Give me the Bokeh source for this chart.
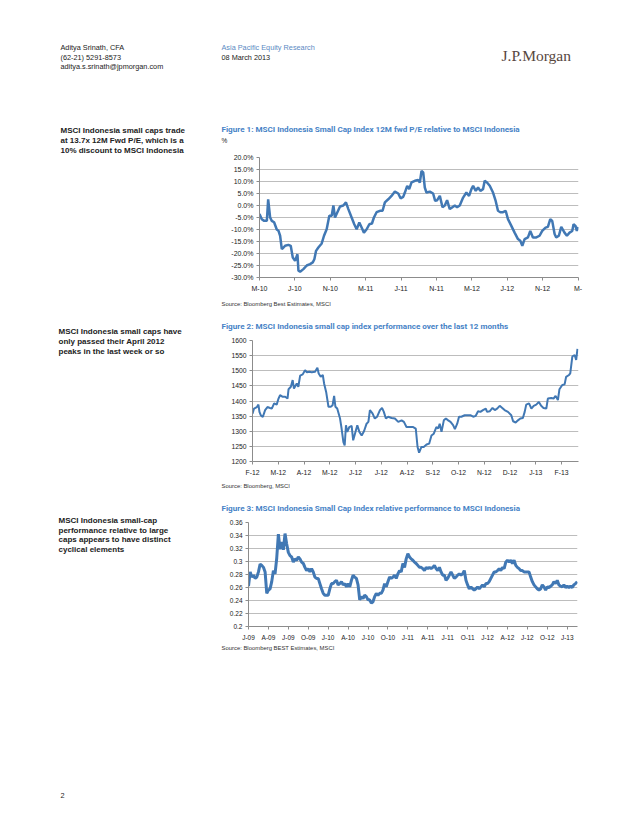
import numpy as np
from bokeh.plotting import figure
from bokeh.models import Range1d, Label, FixedTicker
from bokeh.layouts import column, row
from bokeh.embed import file_html
from bokeh.resources import INLINE

# ---------------- data ----------------
# Figure 1: small cap 12M fwd P/E relative to MSCI Indonesia (%), x = months since Mar-2010
f1_months = [0.00, 0.26, 0.53, 0.83, 0.98, 1.20, 1.39, 1.65, 1.95, 2.14, 2.33, 2.52, 2.71, 2.89, 3.27, 3.53,
             3.76, 4.02, 4.29, 4.40, 4.59, 4.96, 5.34, 5.71, 6.02, 6.20, 6.39, 6.65, 7.03, 7.29, 7.59, 7.89,
             8.16, 8.35, 8.53, 8.80, 9.10, 9.47, 9.77, 10.04, 10.41, 10.71, 10.98, 11.28, 11.54, 11.80, 12.11,
             12.41, 12.71, 12.93, 13.23, 13.61, 13.91, 14.17, 14.55, 14.92, 15.30, 15.68, 15.94, 16.24, 16.43,
             16.69, 16.92, 17.18, 17.56, 17.93, 18.12, 18.31, 18.50, 18.68, 18.87, 19.25, 19.62, 19.85, 20.08,
             20.38, 20.68, 20.94, 21.20, 21.50, 21.80, 22.07, 22.33, 22.63, 23.01, 23.38, 23.68, 23.95, 24.14,
             24.44, 24.70, 24.96, 25.26, 25.45, 25.71, 26.02, 26.39, 26.69, 26.95, 27.22, 27.52, 27.82, 28.08,
             28.46, 28.83, 29.21, 29.47, 29.70, 29.96, 30.34, 30.60, 30.90, 31.28, 31.65, 31.95, 32.33, 32.59,
             32.86, 33.08, 33.35, 33.53, 33.83, 34.10, 34.47, 34.74, 35.04, 35.34, 35.49, 35.71, 35.86, 36.00]
f1_values = [-3.5, -5.7, -6.4, -6.4, 2.6, -5.0, -6.4, -7.0, -10.0, -10.5, -12.6, -18.2, -17.5, -16.8, -16.4, -16.8,
             -21.7, -23.0, -20.3, -27.2, -27.6, -26.5, -25.0, -24.4, -23.7, -22.4, -18.9, -17.5, -15.8, -12.6, -9.9, -4.3,
             -4.3, 0.0, -5.0, -2.8, -0.4, 0.0, 1.3, -1.5, -5.0, -7.8, -9.9, -7.1, -9.2, -11.3, -9.9,
             -7.8, -7.5, -5.0, -2.8, -2.2, -2.2, 1.3, 2.6, 4.0, 5.8, 5.0, 3.0, 3.6, 5.4,
             8.2, 6.8, 9.6, 10.3, 10.6, 9.6, 14.4, 13.8, 7.5, 5.4, 5.8, 5.0, 1.9, 2.2,
             4.0, -0.7, 0.0, 2.2, -1.5, -0.7, 0.0, -0.7, 0.0, 3.3, 5.4, 4.0, 6.8, 8.2,
             6.1, 7.5, 6.1, 6.8, 10.3, 9.6, 8.2, 5.4, 1.9, -2.2, -2.8, -2.8, -2.2, -5.7,
             -8.5, -11.3, -14.0, -14.7, -16.8, -14.0, -13.3, -10.6, -13.3, -13.3, -12.6, -10.6, -9.2, -8.9,
             -5.7, -6.4, -11.9, -13.3, -12.6, -8.9, -11.3, -12.6, -11.3, -10.6, -7.8, -8.5, -10.6, -8.9]
f1_xticks = [0, 4, 8, 12, 16, 20, 24, 28, 32, 36]
f1_xlabels = ["M-10", "J-10", "N-10", "M-11", "J-11", "N-11", "M-12", "J-12", "N-12", "M-"]
f1_yticks = [-30, -25, -20, -15, -10, -5, 0, 5, 10, 15, 20]

# Figure 2: MSCI Indonesia small cap index level, x = months since Feb-2012
f2_months = [0.00, 0.06, 0.17, 0.23, 0.27, 0.32, 0.40, 0.49, 0.58, 0.68, 0.75, 0.84, 0.94, 1.01, 1.07, 1.18,
             1.27, 1.36, 1.40, 1.49, 1.56, 1.61, 1.72, 1.78, 1.85, 1.95, 2.04, 2.11, 2.21, 2.30, 2.43, 2.52,
             2.57, 2.65, 2.73, 2.78, 2.86, 2.95, 3.04, 3.11, 3.17, 3.22, 3.29, 3.40, 3.46, 3.53, 3.58, 3.63,
             3.68, 3.76, 3.85, 3.91, 3.98, 4.07, 4.15, 4.24, 4.33, 4.43, 4.50, 4.56, 4.66, 4.75, 4.84, 4.95,
             5.03, 5.10, 5.18, 5.27, 5.40, 5.53, 5.66, 5.79, 5.88, 5.98, 6.11, 6.24, 6.34, 6.41, 6.47, 6.56,
             6.65, 6.76, 6.86, 6.95, 7.04, 7.14, 7.21, 7.27, 7.34, 7.43, 7.51, 7.60, 7.69, 7.79, 7.86, 7.95,
             8.02, 8.11, 8.24, 8.37, 8.46, 8.57, 8.67, 8.76, 8.85, 8.95, 9.06, 9.11, 9.21, 9.32, 9.41, 9.50,
             9.60, 9.70, 9.79, 9.92, 10.05, 10.12, 10.22, 10.31, 10.40, 10.50, 10.57, 10.63, 10.74, 10.83,
             10.92, 11.02, 11.12, 11.21, 11.30, 11.41, 11.47, 11.60, 11.69, 11.77, 11.86, 11.92, 12.03, 12.12,
             12.18, 12.29, 12.34, 12.42, 12.51, 12.57, 12.62]
f2_values = [1358, 1375, 1380, 1388, 1364, 1353, 1347, 1370, 1380, 1377, 1375, 1392, 1388, 1408, 1419, 1414,
             1414, 1408, 1439, 1447, 1469, 1441, 1458, 1447, 1484, 1488, 1502, 1495, 1497, 1495, 1497, 1510,
             1491, 1480, 1486, 1458, 1430, 1381, 1381, 1386, 1417, 1381, 1375, 1342, 1309, 1264, 1253, 1320,
             1298, 1314, 1318, 1270, 1292, 1320, 1298, 1286, 1300, 1325, 1331, 1370, 1359, 1342, 1348, 1370,
             1377, 1364, 1342, 1348, 1344, 1342, 1331, 1336, 1331, 1314, 1314, 1314, 1309, 1248, 1229, 1248,
             1248, 1256, 1259, 1286, 1292, 1314, 1309, 1325, 1298, 1336, 1342, 1336, 1331, 1320, 1307, 1325,
             1348, 1348, 1353, 1353, 1353, 1348, 1351, 1366, 1364, 1370, 1375, 1364, 1366, 1377, 1370, 1375,
             1384, 1377, 1370, 1364, 1353, 1333, 1329, 1336, 1342, 1344, 1364, 1388, 1392, 1375,
             1384, 1388, 1397, 1384, 1377, 1375, 1408, 1410, 1408, 1417, 1403, 1439, 1453, 1455,
             1480, 1486, 1491, 1547, 1552, 1536, 1572]
f2_xticks = list(range(13))
f2_xlabels = ["F-12", "M-12", "A-12", "M-12", "J-12", "J-12", "A-12", "S-12", "O-12", "N-12", "D-12", "J-13", "F-13"]
f2_yticks = [1200, 1250, 1300, 1350, 1400, 1450, 1500, 1550, 1600]

# Figure 3: small cap index relative to MSCI Indonesia, sampled every quarter month since Jan-2009
f3_step = 0.25
f3_values = [0.262, 0.284, 0.276, 0.279, 0.274, 0.276, 0.284, 0.296, 0.294, 0.291, 0.284, 0.251, 0.256, 0.258,
             0.269, 0.286, 0.281, 0.305, 0.342, 0.319, 0.330, 0.318, 0.343, 0.327, 0.314, 0.309, 0.307, 0.299,
             0.304, 0.302, 0.307, 0.304, 0.299, 0.297, 0.291, 0.286, 0.289, 0.284, 0.289, 0.284, 0.276, 0.274,
             0.274, 0.266, 0.258, 0.251, 0.248, 0.248, 0.248, 0.258, 0.266, 0.266, 0.269, 0.271, 0.264, 0.266,
             0.269, 0.264, 0.266, 0.261, 0.266, 0.261, 0.271, 0.279, 0.276, 0.274, 0.264, 0.241, 0.246, 0.243,
             0.248, 0.246, 0.241, 0.241, 0.236, 0.238, 0.246, 0.251, 0.248, 0.251, 0.251, 0.256, 0.266, 0.261,
             0.269, 0.276, 0.274, 0.276, 0.279, 0.274, 0.281, 0.286, 0.284, 0.297, 0.291, 0.304, 0.312, 0.307,
             0.304, 0.302, 0.299, 0.297, 0.294, 0.291, 0.291, 0.289, 0.286, 0.291, 0.289, 0.291, 0.289, 0.291,
             0.294, 0.289, 0.286, 0.291, 0.284, 0.279, 0.279, 0.271, 0.274, 0.279, 0.284, 0.279, 0.274, 0.276,
             0.279, 0.281, 0.279, 0.281, 0.286, 0.271, 0.264, 0.258, 0.261, 0.258, 0.256, 0.258, 0.261, 0.258,
             0.261, 0.264, 0.261, 0.266, 0.266, 0.269, 0.274, 0.279, 0.284, 0.284, 0.286, 0.289, 0.286, 0.291,
             0.289, 0.299, 0.302, 0.299, 0.302, 0.297, 0.302, 0.294, 0.291, 0.289, 0.286, 0.286, 0.284, 0.284,
             0.284, 0.284, 0.276, 0.269, 0.264, 0.261, 0.258, 0.256, 0.258, 0.264, 0.261, 0.256, 0.261, 0.260,
             0.262, 0.264, 0.269, 0.266, 0.271, 0.264, 0.262, 0.261, 0.264, 0.260, 0.262, 0.260, 0.262, 0.260,
             0.264, 0.266, 0.269]
f3_months = [i * f3_step for i in range(len(f3_values))]
f3_xticks = list(range(0, 49, 3))
f3_xlabels = ["J-09", "A-09", "J-09", "O-09", "J-10", "A-10", "J-10", "O-10", "J-11", "A-11", "J-11", "O-11",
              "J-12", "A-12", "J-12", "O-12", "J-13"]
f3_yticks = [0.2, 0.22, 0.24, 0.26, 0.28, 0.3, 0.32, 0.34, 0.36]
f3_ylabels = ["0.2", "0.22", "0.24", "0.26", "0.28", "0.3", "0.32", "0.34", "0.36"]

# ---------------- styling ----------------
FONT = "Liberation Sans"
TFONT = "Roboto"
LINE = "#4178b4"
TITLE_BLUE = "#4682c6"
TXT = "#222222"
GRID = "#bdbdbd"
AXIS = "#8c8c8c"
SPLIT = 212   # page x where the chart column begins
X0, X1 = 0, 622


def blank(x0, x1, y0, y1):
    """Empty text canvas whose data coordinates are page pixels (y downwards)."""
    p = figure(width=x1 - x0, height=y1 - y0, output_backend="svg", toolbar_location=None,
               x_range=Range1d(x0, x1), y_range=Range1d(y1, y0),
               x_axis_type=None, y_axis_type=None, title=None,
               min_border=0, frame_align=False)
    p.grid.visible = False
    p.outline_line_color = None
    return p


def txt(p, x, y, text, size=7.3, color=TXT, bold=False, font=FONT):
    p.add_layout(Label(x=x, y=y, text=text, text_font=font, text_font_size=f"{size}px",
                       text_color=color, text_font_style="bold" if bold else "normal",
                       text_baseline="middle", text_align="left"))


def chart(y0, y1, frame_left, frame_right, frame_top, frame_bottom, xr, yr, fs):
    p = figure(width=X1 - SPLIT, height=y1 - y0, output_backend="svg", toolbar_location=None,
               x_range=Range1d(*xr), y_range=Range1d(*yr), title=None, frame_align=False,
               min_border_left=frame_left - SPLIT, min_border_right=X1 - frame_right,
               min_border_top=frame_top - y0, min_border_bottom=y1 - frame_bottom)
    p.outline_line_color = None
    p.xgrid.visible = False
    p.ygrid.grid_line_color = GRID
    p.ygrid.grid_line_width = 1
    for ax in (p.xaxis[0], p.yaxis[0]):
        ax.axis_line_color = AXIS
        ax.major_tick_line_color = AXIS
        ax.major_tick_out = 3
        ax.major_tick_in = 0
        ax.minor_tick_line_color = None
        ax.major_label_text_font = FONT
        ax.major_label_text_font_size = fs
        ax.major_label_text_color = TXT
    p.xaxis[0].major_label_standoff = 4
    p.yaxis[0].major_label_standoff = 3
    return p


def band(y0, t_end, s_start, y1, plot):
    left = blank(X0, SPLIT, y0, y1)
    top = blank(SPLIT, X1, y0, t_end)
    src = blank(SPLIT, X1, s_start, y1)
    return left, top, src, row(left, column(top, plot, src, spacing=0), spacing=0)


# ---------------- header ----------------
header = blank(X0, X1, 0, 112)
txt(header, 60, 47, "Aditya Srinath, CFA")
txt(header, 60, 56.5, "(62-21) 5291-8573")
txt(header, 60, 66, "aditya.s.srinath@jpmorgan.com")
txt(header, 221, 47, "Asia Pacific Equity Research", color="#5b8ac3")
txt(header, 221, 56.5, "08 March 2013")
txt(header, 501, 55, "J.P.Morgan", 15.5, color="#574740", font="Liberation Serif")

# ---------------- figure 1 ----------------
p1 = chart(152, 296, 259, 578, 157, 277, (0, 36.05), (-30, 20), "7px")
p1.line(f1_months, f1_values, line_color=LINE, line_width=2.5)
p1.yaxis[0].ticker = FixedTicker(ticks=f1_yticks)
p1.yaxis[0].major_label_overrides = {v: f"{v:.1f}%" for v in f1_yticks}
p1.xaxis[0].ticker = FixedTicker(ticks=f1_xticks)
p1.xaxis[0].major_label_overrides = dict(zip(f1_xticks, f1_xlabels))
l1, tp1, s1, band1 = band(112, 152, 296, 318, p1)
txt(l1, 60, 129.5, "MSCI Indonesia small caps trade", 8, bold=True)
txt(l1, 60, 139.5, "at 13.7x 12M Fwd P/E, which is a", 8, bold=True)
txt(l1, 60, 149.5, "10% discount to MSCI Indonesia", 8, bold=True)
txt(tp1, 221, 128, "Figure 1: MSCI Indonesia Small Cap Index 12M fwd P/E relative to MSCI Indonesia", 8.1,
    color=TITLE_BLUE, bold=True, font=TFONT)
txt(tp1, 221, 140, "%", 6.5)
txt(s1, 221, 303, "Source: Bloomberg Best Estimates, MSCI", 5.9, color="#333333")

# ---------------- figure 2 ----------------
p2 = chart(335, 478, 252, 578, 340, 461, (0, 12.66), (1200, 1600), "6.8px")
p2.line(f2_months, f2_values, line_color=LINE, line_width=2)
p2.yaxis[0].ticker = FixedTicker(ticks=f2_yticks)
p2.xaxis[0].ticker = FixedTicker(ticks=f2_xticks)
p2.xaxis[0].major_label_overrides = dict(zip(f2_xticks, f2_xlabels))
l2, tp2, s2, band2 = band(318, 335, 478, 498, p2)
txt(l2, 58, 330.5, "MSCI Indonesia small caps have", 8, bold=True)
txt(l2, 58, 340.5, "only passed their April 2012", 8, bold=True)
txt(l2, 58, 350.5, "peaks in the last week or so", 8, bold=True)
txt(tp2, 221, 325, "Figure 2: MSCI Indonesia small cap index performance over the last 12 months", 8.1,
    color=TITLE_BLUE, bold=True, font=TFONT)
txt(s2, 221, 485, "Source: Bloomberg, MSCI", 5.9, color="#333333")

# ---------------- figure 3 ----------------
p3 = chart(517, 643, 248, 577, 522, 627, (0, 49.55), (0.2, 0.36), "6.5px")
p3.line(f3_months, f3_values, line_color=LINE, line_width=3)
p3.yaxis[0].ticker = FixedTicker(ticks=f3_yticks)
p3.yaxis[0].major_label_overrides = dict(zip(f3_yticks, f3_ylabels))
p3.xaxis[0].ticker = FixedTicker(ticks=f3_xticks)
p3.xaxis[0].major_label_overrides = dict(zip(f3_xticks, f3_xlabels))
l3, tp3, s3, band3 = band(498, 517, 643, 660, p3)
txt(l3, 58, 520, "MSCI Indonesia small-cap", 8, bold=True)
txt(l3, 58, 529.5, "performance relative to large", 8, bold=True)
txt(l3, 58, 539, "caps appears to have distinct", 8, bold=True)
txt(l3, 58, 548.5, "cyclical elements", 8, bold=True)
txt(tp3, 221, 507, "Figure 3: MSCI Indonesia Small Cap Index relative performance to MSCI Indonesia", 8.1,
    color=TITLE_BLUE, bold=True, font=TFONT)
txt(s3, 221, 647.5, "Source: Bloomberg BEST Estimates, MSCI", 5.9, color="#333333")

# ---------------- footer ----------------
footer = blank(X0, X1, 660, 818)
txt(footer, 60, 795, "2")

layout = column(header, band1, band2, band3, footer, spacing=0)
open("out.html", "w").write(file_html(layout, INLINE))
